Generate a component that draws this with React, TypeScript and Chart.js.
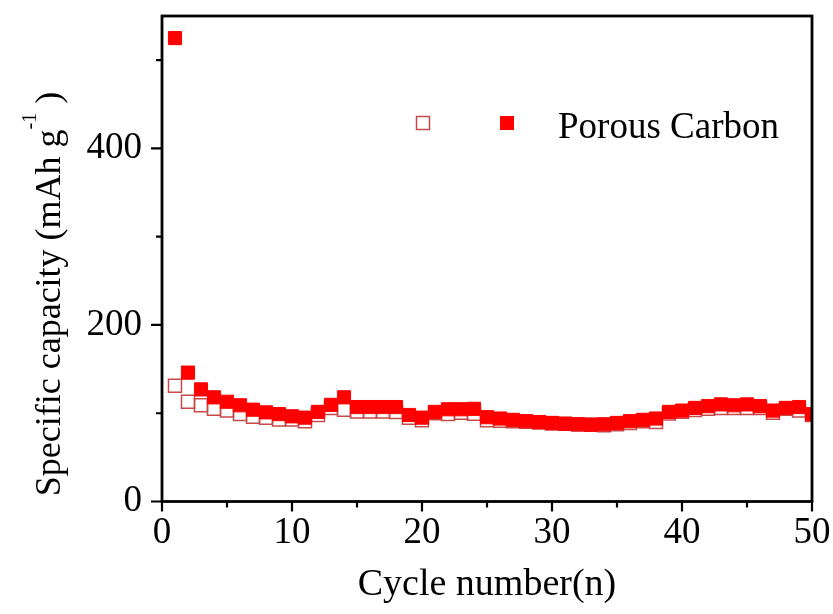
import React, { useEffect, useRef } from 'react';
import { Chart, registerables } from 'chart.js';

Chart.register(...registerables);

// Cycle index (x) and the two capacity series (y, mAh g^-1)
const cycles = [
  1, 2, 3, 4, 5, 6, 7, 8, 9, 10,
  11, 12, 13, 14, 15, 16, 17, 18, 19, 20,
  21, 22, 23, 24, 25, 26, 27, 28, 29, 30,
  31, 32, 33, 34, 35, 36, 37, 38, 39, 40,
  41, 42, 43, 44, 45, 46, 47, 48, 49, 50,
];

// filled squares
const dischargeCapacity = [
  525, 146, 127, 118, 113, 109, 104, 101, 99, 96.5,
  95, 101.5, 109.5, 118, 107, 107, 107, 107, 98, 95,
  101.5, 104.5, 104.5, 105, 95.5, 94, 92.5, 91, 90, 89,
  88, 87.5, 87, 87.5, 89, 91, 92.5, 94, 101.5, 103,
  106, 108, 110, 109, 110, 108, 103, 106, 107, 99,
];

// open squares
const chargeCapacity = [
  131, 113, 109, 105, 103, 99, 96, 95, 93, 93,
  91, 98, 106, 104, 102, 102, 102, 101.5, 95, 92,
  100, 99, 100.5, 99.5, 92, 91.4, 91, 90.3, 89.5, 88.4,
  88, 87.3, 87, 86.5, 87.5, 89, 91, 90, 99.7, 101.6,
  103.6, 105, 106, 106, 106, 106, 100.5, 105, 103, 98,
];

const xMajorTicks = [0, 10, 20, 30, 40, 50];
const yMajorTicks = [0, 200, 400];

const seriesLabel = 'Porous Carbon';
const xAxisTitle = 'Cycle number(n)';
const yAxisTitleMain = 'Specific capacity (mAh g';
const yAxisTitleSup = '-1';
const yAxisTitleEnd = ' )';

const SERIF = '"Liberation Serif", "Times New Roman", Times, serif';
const FILL_RED = '#ff0000';
const OPEN_RED = '#c84848';

// Boxed frame, outward ticks, axis titles and the legend row
const decorPlugin = {
  id: 'decor',
  afterDatasetsDraw(chart: any) {
    const { ctx, chartArea: a, scales } = chart;
    const xs = scales.x;
    const ys = scales.y;
    ctx.save();

    // frame
    ctx.strokeStyle = '#000';
    ctx.lineWidth = 2.8;
    ctx.strokeRect(a.left, a.top, a.right - a.left, a.bottom - a.top);

    // ticks
    ctx.lineWidth = 2.2;
    ctx.beginPath();
    xs.ticks.forEach((t: any) => {
      const px = xs.getPixelForValue(t.value);
      const len = xMajorTicks.includes(t.value) ? 10 : 6;
      ctx.moveTo(px, a.bottom);
      ctx.lineTo(px, a.bottom + len);
    });
    ys.ticks.forEach((t: any) => {
      const py = ys.getPixelForValue(t.value);
      const len = yMajorTicks.includes(t.value) ? 11 : 6;
      ctx.moveTo(a.left, py);
      ctx.lineTo(a.left - len, py);
    });
    ctx.stroke();

    ctx.fillStyle = '#000';

    // x title
    ctx.font = `38px ${SERIF}`;
    ctx.textAlign = 'center';
    ctx.textBaseline = 'alphabetic';
    ctx.fillText(xAxisTitle, (a.left + a.right) / 2, 595);

    // y title, rotated, with superscript
    ctx.save();
    ctx.translate(60, 294);
    ctx.rotate(-Math.PI / 2);
    ctx.textAlign = 'left';
    ctx.font = `36px ${SERIF}`;
    const w1 = ctx.measureText(yAxisTitleMain).width;
    const w3 = ctx.measureText(yAxisTitleEnd).width;
    ctx.font = `20px ${SERIF}`;
    const w2 = ctx.measureText(yAxisTitleSup).width;
    let cx = -(w1 + w2 + w3) / 2;
    ctx.font = `36px ${SERIF}`;
    ctx.fillText(yAxisTitleMain, cx, 0);
    cx += w1;
    ctx.font = `20px ${SERIF}`;
    ctx.fillText(yAxisTitleSup, cx, -24);
    cx += w2;
    ctx.font = `36px ${SERIF}`;
    ctx.fillText(yAxisTitleEnd, cx, 0);
    ctx.restore();

    // legend row
    const ly = a.top + 107;
    const ox = a.left + 261;
    ctx.strokeStyle = OPEN_RED;
    ctx.lineWidth = 1.5;
    ctx.strokeRect(ox - 6.5, ly - 6.5, 13, 13);
    const fx = a.left + 345;
    ctx.fillStyle = FILL_RED;
    ctx.fillRect(fx - 7, ly - 7, 14, 14);
    ctx.fillStyle = '#000';
    ctx.font = `37px ${SERIF}`;
    ctx.textAlign = 'left';
    ctx.textBaseline = 'alphabetic';
    ctx.fillText(seriesLabel, a.left + 396, ly + 15);

    ctx.restore();
  },
};

export default function App() {
  const canvasRef = useRef<HTMLCanvasElement | null>(null);

  useEffect(() => {
    const canvas = canvasRef.current;
    if (!canvas) return;
    const chart = new Chart(canvas, {
      type: 'scatter',
      data: {
        datasets: [
          {
            label: seriesLabel,
            data: cycles.map((c, i) => ({ x: c, y: dischargeCapacity[i] })),
            pointStyle: 'rect',
            pointRadius: 9.3,
            pointBorderWidth: 1,
            pointBackgroundColor: FILL_RED,
            pointBorderColor: FILL_RED,
            showLine: false,
          },
          {
            label: seriesLabel,
            data: cycles.map((c, i) => ({ x: c, y: chargeCapacity[i] })),
            pointStyle: 'rect',
            pointRadius: 9.2,
            pointBorderWidth: 1.5,
            pointBackgroundColor: 'rgba(0,0,0,0)',
            pointBorderColor: OPEN_RED,
            showLine: false,
          },
        ],
      },
      options: {
        responsive: false,
        animation: false,
        layout: { padding: { top: 16, right: 21, left: 0, bottom: 0 } },
        plugins: {
          legend: { display: false },
          tooltip: { enabled: false },
        },
        scales: {
          x: {
            type: 'linear',
            min: 0,
            max: 50,
            grid: { display: false, drawTicks: false },
            border: { display: false },
            ticks: {
              stepSize: 5,
              autoSkip: false,
              maxRotation: 0,
              padding: 10,
              color: '#000',
              font: { family: SERIF, size: 37 },
              callback: (v: any) => (xMajorTicks.includes(Number(v)) ? String(v) : ''),
            },
            afterFit: (scale: any) => {
              scale.height = 112.5;
              scale.paddingLeft = 0;
              scale.paddingRight = 0;
            },
          },
          y: {
            type: 'linear',
            min: 0,
            max: 550,
            grid: { display: false, drawTicks: false },
            border: { display: false },
            ticks: {
              stepSize: 100,
              includeBounds: false,
              autoSkip: false,
              padding: 20,
              color: '#000',
              font: { family: SERIF, size: 37 },
              callback: (v: any) => (yMajorTicks.includes(Number(v)) ? String(v) : ''),
            },
            afterFit: (scale: any) => {
              scale.width = 162;
              scale.paddingTop = 0;
              scale.paddingBottom = 0;
            },
          },
        },
      },
      plugins: [decorPlugin],
    });
    return () => chart.destroy();
  }, []);

  return (
    <div style={{ position: 'absolute', left: 0, top: 0, width: 833, height: 614, background: '#fff' }}>
      <canvas ref={canvasRef} width={833} height={614} />
    </div>
  );
}
